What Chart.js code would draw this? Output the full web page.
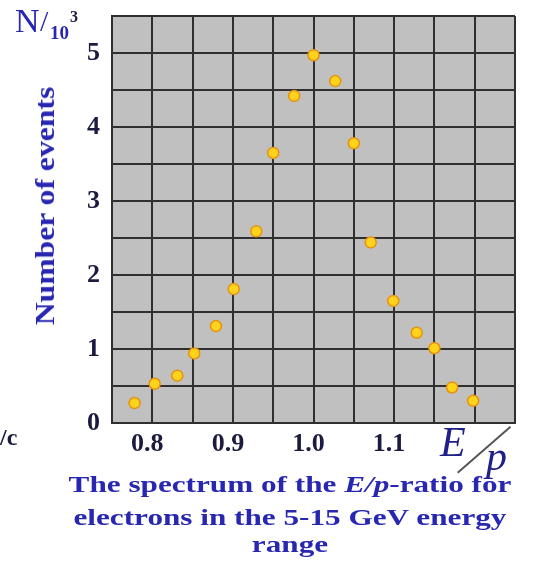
<!DOCTYPE html>
<html lang="en">
<head>
    <meta charset="UTF-8">
    <title>E/p spectrum</title>
    <script src="https://cdn.jsdelivr.net/npm/chart.js"></script>
    <style>
        body {
            margin: 0;
            background-color: white;
            font-family: "Liberation Serif", serif;
        }
        #wrap {
            position: relative;
            width: 539px;
            height: 567px;
            overflow: hidden;
        }
        .lbl {
            position: absolute;
            white-space: nowrap;
            font-weight: bold;
            color: #2727b2;
        }
        .cap {
            left: 0;
            width: 580px;
            text-align: center;
            font-size: 24px;
            transform: scaleX(1.3);
            transform-origin: 290px 0;
        }
    </style>
</head>
<body>
    <div id="wrap">
        <canvas id="myChart" width="539" height="567"></canvas>

        <div class="lbl" style="left:15px; top:2px; font-size:34px; font-weight:normal;">N</div>
        <div class="lbl" style="left:40px; top:4px; font-size:30px; font-weight:normal;">/</div>
        <div class="lbl" style="left:50px; top:22px; font-size:19px;">10</div>
        <div class="lbl" style="left:70px; top:8px; font-size:16px; color:#1b1b40;">3</div>

        <div class="lbl" id="ytitle" style="left:45px; top:206px; font-size:28px;
             transform: translate(-50%, -50%) rotate(-90deg) scaleX(1.13);">Number of events</div>

        <div class="lbl" style="left:0px; top:424px; font-size:24px; color:#1b1b40;">/c</div>

        <div class="lbl" style="left:440px; top:418px; font-size:42px; font-style:italic; font-weight:normal; color:#20208a;">E</div>
        <div class="lbl" style="left:486px; top:432px; font-size:42px; font-style:italic; font-weight:normal; color:#20208a;">p</div>
        <div style="position:absolute; left:457px; top:472px; width:70px; height:2px; background:#555;
             transform: rotate(-41deg); transform-origin: 0 0;"></div>

        <div class="lbl cap" style="top:471px;">The spectrum of the <i>E/p</i>-ratio for</div>
        <div class="lbl cap" style="top:504px;">electrons in the 5-15 GeV energy</div>
        <div class="lbl cap" style="top:531px;">range</div>
    </div>

    <script>
        // E/p ratio values and number of events (in thousands)
        const epRatio = [0.778, 0.803, 0.831, 0.852, 0.879, 0.901, 0.929, 0.950, 0.976,
                         1.000, 1.027, 1.050, 1.071, 1.099, 1.128, 1.150, 1.172, 1.198];
        const events = [0.27, 0.53, 0.64, 0.94, 1.31, 1.81, 2.59, 3.65, 4.42,
                        4.97, 4.62, 3.78, 2.44, 1.65, 1.22, 1.01, 0.48, 0.30];
        const xTickLabels = ['0.8', '0.9', '1.0', '1.1'];
        const yTickLabels = ['0', '1', '2', '3', '4', '5'];

        const plotBg = {
            id: 'plotBg',
            beforeDraw(chart) {
                const a = chart.chartArea;
                const c = chart.ctx;
                c.save();
                c.fillStyle = '#c0c0c0';
                c.fillRect(a.left, a.top, a.right - a.left, a.bottom - a.top);
                c.restore();
            }
        };

        const gridCol = '#2f2f2f';
        const tickFont = { family: '"Liberation Serif", serif', size: 26, weight: 'bold' };

        const ctx = document.getElementById('myChart').getContext('2d');
        new Chart(ctx, {
            type: 'scatter',
            data: {
                datasets: [{
                    data: epRatio.map((x, i) => ({ x: x, y: events[i] })),
                    backgroundColor: '#ffd21c',
                    borderColor: '#e6920e',
                    borderWidth: 1.5,
                    pointRadius: 5.5
                }]
            },
            options: {
                responsive: false,
                animation: false,
                layout: { padding: { top: 16, right: 24, left: 0, bottom: 0 } },
                plugins: {
                    legend: { display: false },
                    tooltip: { enabled: false }
                },
                scales: {
                    x: {
                        type: 'linear',
                        min: 0.75,
                        max: 1.25,
                        afterFit: (s) => { s.height = 144; s.paddingLeft = 0; s.paddingRight = 0; },
                        grid: { color: gridCol, lineWidth: 2, drawTicks: false },
                        border: { color: gridCol, width: 2 },
                        ticks: {
                            stepSize: 0.05,
                            padding: 6,
                            labelOffset: -5,
                            color: '#1b1b40',
                            font: tickFont,
                            maxRotation: 0,
                            autoSkip: false,
                            callback: function(v) {
                                const s = (Math.round(v * 100) / 100).toFixed(2);
                                const lab = s.endsWith('0') ? s.slice(0, -1) : '';
                                return xTickLabels.includes(lab) ? lab : '';
                            }
                        }
                    },
                    y: {
                        min: 0,
                        max: 5.5,
                        afterFit: (s) => { s.width = 112; s.paddingTop = 0; s.paddingBottom = 0; },
                        grid: { color: gridCol, lineWidth: 2, drawTicks: false },
                        border: { color: gridCol, width: 2 },
                        ticks: {
                            stepSize: 0.5,
                            padding: 12,
                            color: '#1b1b40',
                            font: tickFont,
                            autoSkip: false,
                            callback: function(v) {
                                const r = Math.round(v * 10) / 10;
                                const lab = Number.isInteger(r) ? String(r) : '';
                                return yTickLabels.includes(lab) ? lab : '';
                            }
                        }
                    }
                }
            },
            plugins: [plotBg]
        });
    </script>
</body>
</html>
